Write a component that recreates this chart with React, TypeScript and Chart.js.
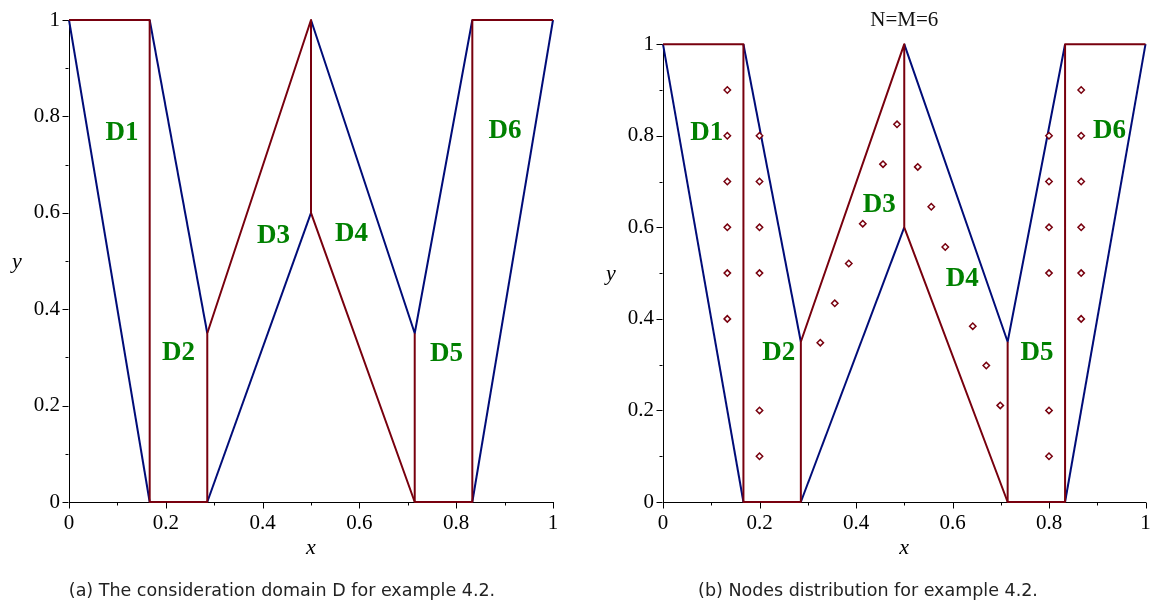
import React, { useEffect, useRef } from "react";
import { Chart, registerables } from "chart.js";

Chart.register(...registerables);

// ---------- data ----------
const xTickValues = [0, 0.2, 0.4, 0.6, 0.8, 1];
const yTickValues = [0, 0.2, 0.4, 0.6, 0.8, 1];

// dark-red boundary (interfaces + outer edges)
const redPathX = [0, 0.1667, 0.1667, 0.2857, 0.2857, 0.5, 0.5, 0.7143, 0.8333, 0.8333, 1];
const redPathY = [1, 1, 0, 0, 0.35, 1, 0.6, 0, 0, 1, 1];
const redStubX = [0.7143, 0.7143];
const redStubY = [0, 0.35];

// navy boundary segments
const blueSegX = [
  [0, 0.1667],
  [0.1667, 0.2857],
  [0.2857, 0.5],
  [0.5, 0.7143, 0.8333],
  [0.8333, 1],
];
const blueSegY = [
  [1, 0],
  [1, 0.35],
  [0, 0.6],
  [1, 0.35, 1],
  [0, 1],
];

// region labels
const regionNames = ["D1", "D2", "D3", "D4", "D5", "D6"];
const leftLabelX = [0.1095, 0.226, 0.4225, 0.5837, 0.78, 0.9008];
const leftLabelY = [0.768, 0.311, 0.554, 0.558, 0.309, 0.772];
const rightLabelX = [0.0909, 0.2397, 0.448, 0.62, 0.775, 0.9256];
const rightLabelY = [0.808, 0.3275, 0.651, 0.489, 0.3275, 0.812];

// collocation nodes (right panel)
const nodeX = [
  0.1333, 0.1333, 0.1333, 0.1333, 0.1333, 0.1333,
  0.2, 0.2, 0.2, 0.2, 0.2, 0.2,
  0.326, 0.356, 0.385, 0.414, 0.456, 0.485,
  0.528, 0.556, 0.585, 0.642, 0.67, 0.699,
  0.8, 0.8, 0.8, 0.8, 0.8, 0.8,
  0.8667, 0.8667, 0.8667, 0.8667, 0.8667, 0.8667,
];
const nodeY = [
  0.9, 0.8, 0.7, 0.6, 0.5, 0.4,
  0.8, 0.7, 0.6, 0.5, 0.2, 0.1,
  0.348, 0.434, 0.521, 0.608, 0.738, 0.825,
  0.732, 0.645, 0.557, 0.384, 0.298, 0.211,
  0.8, 0.7, 0.6, 0.5, 0.2, 0.1,
  0.9, 0.8, 0.7, 0.6, 0.5, 0.4,
];

const rightTitle = "N=M=6";
const captionA = "(a) The consideration domain D for example 4.2.";
const captionB = "(b) Nodes distribution for example 4.2.";

// ---------- styles ----------
const RED = "#78000E";
const BLUE = "#000C78";
const GREEN = "#008000";
const SERIF = "'Liberation Serif', 'Times New Roman', serif";

const toPts = (xs: number[], ys: number[]) => xs.map((x, i) => ({ x, y: ys[i] }));

const decorPlugin = {
  id: "decor",
  afterDraw(chart: any, _args: any, opts: any) {
    const ctx = chart.ctx;
    const { left, right, top, bottom } = chart.chartArea;
    const xs = chart.scales.x;
    const ys = chart.scales.y;
    ctx.save();
    ctx.strokeStyle = "#000";
    ctx.lineWidth = 1;
    const ax = Math.round(left) - 0.5;
    const ay = Math.round(bottom) + 0.5;
    const xv = xs.ticks.map((t: any) => t.value);
    const yv = ys.ticks.map((t: any) => t.value);
    ctx.beginPath();
    xv.forEach((v: number, i: number) => {
      const px = Math.round(xs.getPixelForValue(v)) + 0.5;
      ctx.moveTo(px, ay);
      ctx.lineTo(px, ay + 6);
      if (i < xv.length - 1) {
        const m = Math.round(xs.getPixelForValue((v + xv[i + 1]) / 2)) + 0.5;
        ctx.moveTo(m, ay);
        ctx.lineTo(m, ay + 3);
      }
    });
    yv.forEach((v: number, i: number) => {
      const py = Math.round(ys.getPixelForValue(v)) + 0.5;
      ctx.moveTo(ax, py);
      ctx.lineTo(ax - 6, py);
      if (i < yv.length - 1) {
        const m = Math.round(ys.getPixelForValue((v + yv[i + 1]) / 2)) + 0.5;
        ctx.moveTo(ax, m);
        ctx.lineTo(ax - 3, m);
      }
    });
    ctx.stroke();

    // axis titles
    ctx.fillStyle = "#000";
    ctx.font = `italic 22px ${SERIF}`;
    ctx.textAlign = "center";
    ctx.textBaseline = "middle";
    ctx.fillText("x", (left + right) / 2, bottom + 46);
    ctx.fillText("y", left - 52, (top + bottom) / 2 + 1);

    // region labels
    ctx.fillStyle = GREEN;
    ctx.font = `bold 27px ${SERIF}`;
    const lx: number[] = opts.labelX;
    const ly: number[] = opts.labelY;
    regionNames.forEach((name, i) => {
      ctx.fillText(name, xs.getPixelForValue(lx[i]), ys.getPixelForValue(ly[i]) + 1);
    });
    ctx.restore();
  },
};

function makeConfig(p: {
  nodes: boolean;
  labelX: number[];
  labelY: number[];
  title: string | null;
  yWidth: number;
  padding: any;
}): any {
  const lineDs = (data: any[], color: string) => ({
    data,
    showLine: true,
    borderColor: color,
    borderWidth: 2,
    pointRadius: 0,
    pointHoverRadius: 0,
    fill: false,
    tension: 0,
    clip: false,
    borderJoinStyle: "round",
  });
  const datasets: any[] = [];
  if (p.nodes) {
    datasets.push({
      data: toPts(nodeX, nodeY),
      showLine: false,
      clip: false,
      pointStyle: "rectRot",
      pointRadius: 3.2,
      pointBorderWidth: 1.5,
      pointBorderColor: RED,
      pointBackgroundColor: "#fff",
    });
  }
  datasets.push(lineDs(toPts(redPathX, redPathY), RED));
  datasets.push(lineDs(toPts(redStubX, redStubY), RED));
  blueSegX.forEach((sx, i) => datasets.push(lineDs(toPts(sx, blueSegY[i]), BLUE)));

  const tickFont = { family: SERIF, size: 21 };
  const zeroPad = (s: any) => {
    s.paddingLeft = 0;
    s.paddingRight = 0;
    s.paddingTop = 0;
    s.paddingBottom = 0;
  };
  return {
    type: "scatter",
    data: { datasets },
    options: {
      animation: false,
      responsive: false,
      events: [],
      layout: { padding: p.padding },
      plugins: {
        legend: { display: false },
        tooltip: { enabled: false },
        title: p.title
          ? {
              display: true,
              text: p.title,
              fullSize: false,
              color: "#111",
              font: { family: SERIF, size: 21, weight: "normal" },
              padding: { top: 8, bottom: 11 },
            }
          : { display: false },
        decor: { labelX: p.labelX, labelY: p.labelY },
      },
      scales: {
        x: {
          type: "linear",
          min: 0,
          max: 1,
          afterBuildTicks: (s: any) => {
            s.ticks = xTickValues.map((v) => ({ value: v }));
          },
          afterFit: (s: any) => {
            s.height = 103;
            zeroPad(s);
          },
          ticks: {
            font: tickFont,
            color: "#000",
            padding: 9,
            maxRotation: 0,
            autoSkip: false,
            callback: (v: any) => String(v),
          },
          grid: { display: true, drawOnChartArea: false, drawTicks: false },
          border: { display: true, color: "#000", width: 1 },
        },
        y: {
          type: "linear",
          min: 0,
          max: 1,
          afterBuildTicks: (s: any) => {
            s.ticks = yTickValues.map((v) => ({ value: v }));
          },
          afterFit: (s: any) => {
            s.width = p.yWidth;
            zeroPad(s);
          },
          ticks: {
            font: tickFont,
            color: "#000",
            padding: 9,
            autoSkip: false,
            callback: (v: any) => String(v),
          },
          grid: { display: true, drawOnChartArea: false, drawTicks: false },
          border: { display: true, color: "#000", width: 1 },
        },
      },
    },
    plugins: [decorPlugin],
  };
}

function Panel(props: { cfg: any; left: number; width: number }) {
  const ref = useRef<HTMLCanvasElement | null>(null);
  useEffect(() => {
    if (!ref.current) return;
    const chart = new Chart(ref.current, props.cfg);
    return () => chart.destroy();
  }, []);
  return (
    <canvas
      ref={ref}
      width={props.width}
      height={605}
      style={{ position: "absolute", left: props.left, top: 0, width: props.width, height: 605 }}
    />
  );
}

const captionStyle = (cx: number): React.CSSProperties => ({
  position: "absolute",
  left: cx - 300,
  width: 600,
  top: 577,
  textAlign: "center",
  fontFamily: "'DejaVu Sans', sans-serif",
  fontSize: 17.5,
  color: "#222",
  lineHeight: "26px",
  whiteSpace: "nowrap",
});

export default function App() {
  const leftCfg = makeConfig({
    nodes: false,
    labelX: leftLabelX,
    labelY: leftLabelY,
    title: null,
    yWidth: 69,
    padding: { left: 0, top: 20, right: 22, bottom: 0 },
  });
  const rightCfg = makeConfig({
    nodes: true,
    labelX: rightLabelX,
    labelY: rightLabelY,
    title: rightTitle,
    yWidth: 73,
    padding: { left: 0, top: 0, right: 5, bottom: 0 },
  });
  return (
    <div
      style={{
        position: "fixed",
        left: 0,
        top: 0,
        width: 1151,
        height: 605,
        background: "#fff",
        overflow: "hidden",
      }}
    >
      <Panel cfg={leftCfg} left={0} width={575} />
      <Panel cfg={rightCfg} left={590} width={561} />
      <div style={captionStyle(282)}>{captionA}</div>
      <div style={captionStyle(868)}>{captionB}</div>
    </div>
  );
}
